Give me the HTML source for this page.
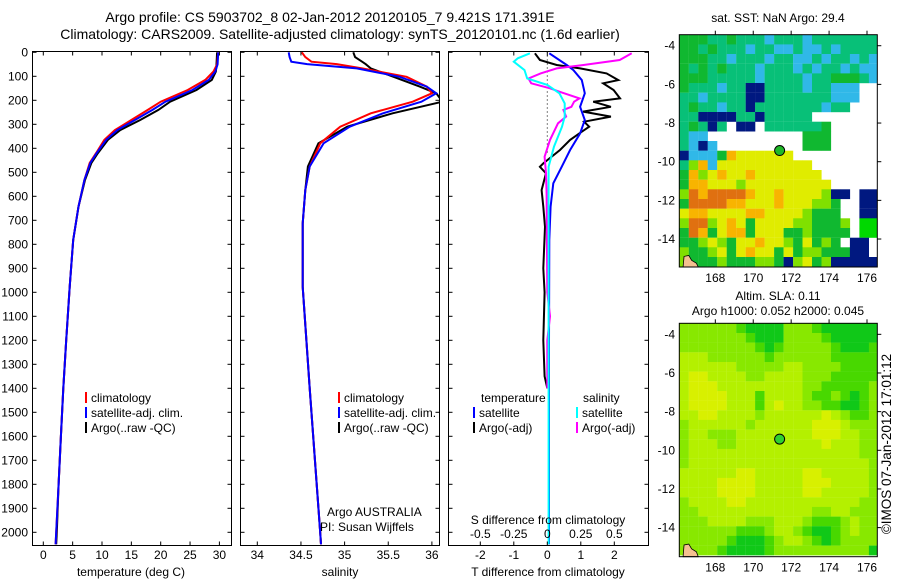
<!DOCTYPE html>
<html><head><meta charset="utf-8"><style>
body{margin:0;background:#fff}
svg{display:block;font-family:"Liberation Sans",sans-serif;font-size:12px}
</style></head><body>
<svg id="fig" width="900" height="580" viewBox="0 0 900 580">
<rect width="900" height="580" fill="#fff"/>
<text x="330" y="22" font-size="14" text-anchor="middle">Argo profile: CS 5903702_8 02-Jan-2012 20120105_7 9.421S 171.391E</text>
<text x="340" y="39" font-size="14" text-anchor="middle">Climatology: CARS2009. Satellite-adjusted climatology: synTS_20120101.nc (1.6d earlier)</text>
<g id="g1"></g>
<g id="g2"></g>
<g id="g3"></g>
<g id="m1"></g>
<g id="m2"></g>
<text x="778" y="22" text-anchor="middle">sat. SST: NaN Argo: 29.4</text>
<text x="778" y="300" text-anchor="middle">Altim. SLA: 0.11</text>
<text x="778" y="315" text-anchor="middle">Argo h1000: 0.052 h2000: 0.045</text>
<text transform="translate(891,444) rotate(-90)" font-size="13.5" text-anchor="middle">©IMOS 07-Jan-2012 17:01:12</text>
</svg>
<script>
// ---- temperature profile data ----
const tDepths = [0,50,80,115,157,206,240,282,324,365,420,461,532,643,782,977,1200,1400,1600,1800,2000,2050];
const argoT   = [29.6,29.5,29.4,28.7,26.1,21.6,19.6,16.5,13.1,11.0,9.3,8.2,7.1,6.0,5.1,4.5,3.9,3.4,3.0,2.6,2.3,2.2];
const satT    = [29.8,29.7,29.3,28.2,25.4,20.8,18.6,15.6,12.6,10.7,9.1,8.0,7.0,6.0,5.1,4.5,3.9,3.4,3.0,2.6,2.2,2.1];
const climT   = [29.8,29.6,29.0,27.6,24.6,20.0,17.8,15.0,12.2,10.4,9.0,7.9,7.0,6.0,5.1,4.5,3.9,3.4,3.0,2.6,2.2,2.1];
// ---- salinity profile data ----
const sDepths = [0,20,39,49,67,102,143,171,206,254,310,379,476,574,713,977,1400,1800,2000,2050];
const satS    = [34.36,34.37,34.39,34.57,35.14,35.63,35.94,36.05,35.88,35.44,35.06,34.76,34.60,34.55,34.52,34.52,34.60,34.68,34.72,34.73];
const climS   = [34.51,34.55,34.62,34.91,35.20,35.71,35.94,36.00,35.78,35.30,34.95,34.72,34.60,34.55,34.52,34.52,34.60,34.68,34.72,34.73];
const argoS   = [35.10,35.12,35.20,35.24,35.30,35.56,35.86,36.05,36.12,35.55,35.03,34.70,34.58,34.55,34.52,34.52,34.60,34.68,34.72,34.73];
// ---- difference data ----
const dSatTDepth = [4,53,74,116,171,227,282,338,407,477,546,643,782,1200,1600,2050];
const dSatT      = [0.06,0.58,0.78,1.03,1.12,0.98,1.12,0.98,0.68,0.43,0.18,0.10,0.06,0.05,0.05,0.05];
const dArgoTDepth = [4,32,53,67,88,116,129,157,192,206,227,247,268,289,310,331,365,407,463,477,504,574,643,727,900,1000,1200,1350,1400];
const dArgoT      = [-0.37,-0.22,0.28,0.98,1.77,2.12,1.67,1.98,2.17,1.37,1.90,1.07,1.90,1.10,1.25,1.03,0.68,0.38,-0.12,-0.22,-0.04,-0.17,-0.12,-0.07,-0.12,-0.08,-0.12,-0.08,0.0];
const dSatSDepth = [4,25,39,74,109,136,171,213,268,310,393,477,643,1000,1600,2050];
const dSatS      = [-0.13,-0.22,-0.25,-0.17,-0.15,0.00,0.09,0.13,0.13,0.11,0.05,0.01,0.01,0.01,0.01,0.01];
const dArgoSDepth = [4,32,53,67,88,109,129,150,164,192,206,227,240,268,296,365,435,504,588,1000,1100,1200,1400];
const dArgoS      = [0.63,0.54,0.27,0.07,-0.05,-0.14,-0.12,0.02,0.09,0.24,0.20,0.18,0.12,0.14,0.08,0.02,-0.02,-0.01,-0.005,0.0,0.02,0.0,0.0];
// ---- tick labels ----
const depthTicks = [0,100,200,300,400,500,600,700,800,900,1000,1100,1200,1300,1400,1500,1600,1700,1800,1900,2000];
const tempTicks = [0,5,10,15,20,25,30];
const salTicks = [34,34.5,35,35.5,36];
const tdiffTicks = [-2,-1,0,1,2];
const sdiffTicks = [-0.5,-0.25,0,0.25,0.5];
const latTicks = [-4,-6,-8,-10,-12,-14];
const lonTicks = [168,170,172,174,176];
const profileLat = -9.421, profileLon = 171.391;

const NS='http://www.w3.org/2000/svg';
function mk(p,tag,at){const e=document.createElementNS(NS,tag);for(const k in at)e.setAttribute(k,at[k]);p.appendChild(e);return e;}
const yD = d => 52.3 + 0.24*d;
const xT = t => 43.3 + 5.87*t;
const xS = s => 257.3 + 87.3*(s-34);
const xdT = t => 547.3 + 33.5*t;
const xdS = s => 547.3 + 134*s;
const PB = 545.5, PT = 51.5;
const panels = [[32.5,231.5],[240.5,439.5],[448.5,648.5]];
const svg=document.getElementById('fig');
const defs=mk(svg,'defs',{});
panels.forEach((p,i)=>{const c=mk(defs,'clipPath',{id:'cp'+i});mk(c,'rect',{x:p[0],y:PT,width:p[1]-p[0],height:PB-PT});});

function frame(g,i){
  const p=panels[i];
  const r=mk(g,'rect',{x:p[0],y:PT,width:p[1]-p[0],height:PB-PT,fill:'none',stroke:'#000','stroke-width':1});
  
  
  depthTicks.forEach(d=>{
    const y=yD(d);
    const t1=mk(g,'line',{x1:p[0],x2:p[0]+4,y1:y,y2:y,stroke:'#000'});
    
    
    const t2=mk(g,'line',{x1:p[1]-4,x2:p[1],y1:y,y2:y,stroke:'#000'});
    
    
  });
}
function xticks(g,vals,fx,labels){
  vals.forEach((v,k)=>{
    const x=fx(v);
    const a=mk(g,'line',{x1:x,x2:x,y1:PT,y2:PT+4,stroke:'#000'});
    
    
    const b=mk(g,'line',{x1:x,x2:x,y1:PB-4,y2:PB,stroke:'#000'});
    
    
    const t=mk(g,'text',{x:x,y:559,'text-anchor':'middle'});
    t.textContent=labels[k];
    
    
  });
}
function line(g,xs,ds,fx,color,clip,name,w){
  const d=xs.map((v,k)=>(k?'L':'M')+fx(v).toFixed(1)+','+yD(ds[k]).toFixed(1)).join('');
  const e=mk(g,'path',{d:d,fill:'none',stroke:color,'stroke-width':w||2,'clip-path':'url(#cp'+clip+')'});
  
  
}
function legend(g,x,y,color,label){
  const b=mk(g,'rect',{x:x,y:y-10,width:2,height:11,fill:color});
  
  
  const t=mk(g,'text',{x:x+6,y:y});
  t.textContent=label;
  
  
}
function txt(g,x,y,s,name,anchor){
  const t=mk(g,'text',{x:x,y:y,'text-anchor':anchor||'start'});
  t.textContent=s;
  
  
}

// Panel 1
const g1=document.getElementById('g1');
line(g1,argoT,tDepths,xT,'#000',0,'argo-temperature-line');
line(g1,climT,tDepths,xT,'#f00',0,'climatology-temperature-line');
line(g1,satT,tDepths,xT,'#00f',0,'satellite-temperature-line');
frame(g1,0);
xticks(g1,tempTicks,xT,tempTicks.map(String));
depthTicks.forEach(d=>{
  const t=mk(g1,'text',{x:28,y:yD(d)+4,'text-anchor':'end'});
  t.textContent=String(d);
  
  
});
txt(g1,131,576,'temperature (deg C)','x-axis-title-temperature','middle');
legend(g1,85,402,'#f00','climatology');
legend(g1,85,417,'#00f','satellite-adj. clim.');
legend(g1,85,432,'#000','Argo(..raw -QC)');

// Panel 2
const g2=document.getElementById('g2');
line(g2,argoS,sDepths,xS,'#000',1,'argo-salinity-line');
line(g2,climS,sDepths,xS,'#f00',1,'climatology-salinity-line');
line(g2,satS,sDepths,xS,'#00f',1,'satellite-salinity-line');
frame(g2,1);
xticks(g2,salTicks,xS,['34','34.5','35','35.5','36']);
txt(g2,340,576,'salinity','x-axis-title-salinity','middle');
legend(g2,338,402,'#f00','climatology');
legend(g2,338,417,'#00f','satellite-adj. clim.');
legend(g2,338,432,'#000','Argo(..raw -QC)');
txt(g2,327,516,'Argo AUSTRALIA','float-owner');
txt(g2,320,531,'PI: Susan Wijffels','float-pi');

// Panel 3
const g3=document.getElementById('g3');
const zl=mk(g3,'line',{x1:xdT(0),x2:xdT(0),y1:PT,y2:yD(420),stroke:'#000','stroke-dasharray':'1,3'});


line(g3,dArgoT,dArgoTDepth,xdT,'#000',2,'argo-t-diff-line');
line(g3,dSatT,dSatTDepth,xdT,'#00f',2,'satellite-t-diff-line');
line(g3,dArgoS,dArgoSDepth,xdS,'#f0f',2,'argo-s-diff-line');
line(g3,dSatS,dSatSDepth,xdS,'#0ff',2,'satellite-s-diff-line');
frame(g3,2);
xticks(g3,tdiffTicks,xdT,tdiffTicks.map(String));
sdiffTicks.forEach((v,k)=>{
  const t=mk(g3,'text',{x:xdS(v),y:538,'text-anchor':'middle'});
  t.textContent=['-0.5','-0.25','0','0.25','0.5'][k];
  
  
});
txt(g3,548,524,'S difference from climatology','s-diff-axis-title','middle');
txt(g3,548,576,'T difference from climatology','t-diff-axis-title','middle');
txt(g3,481,402,'temperature','legend-heading-temperature');
txt(g3,583,402,'salinity','legend-heading-salinity');
legend(g3,473,417,'#00f','satellite');
legend(g3,473,432,'#000','Argo(-adj)');
legend(g3,576,417,'#0ff','satellite');
legend(g3,576,432,'#f0f','Argo(-adj)');

// Maps
const mapGrid1 = [
"gggttgtttctttcttttttt","ggtgtttcttcctcctctttt","gggttctttcttcctcttctc","gtgtgtttctttctcttctcc",
"gggtttttcttttcttgggtc","gtttcttbbttttcttcccww","ttcttttbbtttttttcccww","tgttcttbtttttttcttwww",
"ttbbbbttbtttttwwwwwww","tgtbtwbbwttttttgwwwww","tccwwwwwwwwwwgggwwwww","tcbcwwwwwwwwwgggwwwww",
"bcccgoyyyyyywwwwwwwww","tlocyyyyyyyyyywwwwwww","golyoyyoyyyyyyywwwwww","gooyyylyyyyyyyyywwwww",
"lrorrrroyyoyyyylbbwbb","grrrrooyyyoyyyllgwwbb","yooyyyyooyyyylgggwwbb","lrrlyoygyyyyllggglwGG",
"grogyoogyyygglggggwGG","gglylgyyoyylgyglgwbbw","lgglygyoyygygllgggbbw","lggglgggllgblyglbbbbb"];
const mapGrid2 = [
"llllllgGGGGlllgGGGGGG","lllllllgGGGllllgGGGGG","llllllllgGglllllgGGGg","LLLllllllgllllllggggg",
"LLLLLLlllllLLllllgggg","LyyLLLLllLLLLlllggggg","LyyyLLLLLLLLLllgggggl","LyyyyLLLgLLLLlgglgGgl",
"LyyyyLLLgLyLLllggGGgl","LLyyLLLLlLLLLLLyLlggl","lLLLLLLlLLLLLLyyyLlll","lLLlllLLLLLLLLyyyLLll",
"lLLLllLLLLLLLLLyLLLll","lLLLLLLLLLLLLLLLLLLll","lLLLLLLLLLLLLLLLLLLLl","LLLLLLyyLLLLLyyLLLLLl",
"LLLLyyyyLLLLLyyyLLLLl","LLLLyyyyLLLLLyyLLLLLl","lLLLLyyLLLLLLLLLLLLll","llLLLLLLLLLLLLllLLlll",
"lllLLLLlllLLLlggglLll","llllllggglLLlgGGglLll","lllllgGGGglLLlgGgllll","llllgGGGGgllllllllllG"];
const pal1={g:'#10b830',t:'#08c078',c:'#30b8e8',b:'#001880',w:'#ffffff',y:'#e0ec00',o:'#f8b400',r:'#e07010',l:'#80e000',G:'#00d800'};
const pal2={G:'#10c818',g:'#48d800',l:'#88e800',L:'#b4f000',y:'#d8f000'};
const ML=679.3, MR=877.3, lon0=166.1, lat0=-3.43;
const mx = lon => ML + (lon-lon0)*18.96;
function drawMap(id,top,bot,grid,pal,dotColor){
  const g=document.getElementById(id);
  const my = lat => top + (lat0-lat)*19.33;
  grid.forEach((row,j)=>{
    for(let i=0;i<row.length;i++){
      const c=row[i];
      if(c==='w') continue;
      const x=mx(lon0+0.5*i), y=my(lat0-0.5*j);
      const w=Math.min(9.6, MR-x), h=Math.min(9.8, bot-y);
      if(w<=0||h<=0) continue;
      const r=mk(g,'rect',{x:x.toFixed(1),y:y.toFixed(1),width:w.toFixed(1),height:h.toFixed(1),fill:pal[c]});
      
      
    }
  });
  const land=mk(g,'path',{d:`M${mx(166.3)},${bot}L${mx(166.35)},${my(-14.9)}L${mx(166.6)},${my(-14.85)}L${mx(166.75)},${my(-15.1)}L${mx(167.0)},${my(-15.25)}L${mx(167.1)},${bot}Z`,fill:'#f4c090',stroke:'#000','stroke-width':0.8});
  
  
  const dot=mk(g,'circle',{cx:mx(profileLon),cy:my(profileLat),r:5,fill:dotColor,stroke:'#000','stroke-width':1});
  
  
  const fr=mk(g,'rect',{x:ML,y:top,width:MR-ML,height:bot-top,fill:'none',stroke:'#000'});
  
  
  latTicks.forEach(l=>{
    const y=my(l);
    const t=mk(g,'text',{x:675,y:y+4,'text-anchor':'end'});
    t.textContent=String(l);
    
    
    const k=mk(g,'line',{x1:MR,x2:MR+4,y1:y,y2:y,stroke:'#000'});
    
    
  });
  lonTicks.forEach(l=>{
    const x=mx(l);
    const t=mk(g,'text',{x:x,y:bot+15,'text-anchor':'middle'});
    t.textContent=String(l);
    
    
    const k=mk(g,'line',{x1:x,x2:x,y1:top-4,y2:top,stroke:'#000'});
    
    
  });
}
drawMap('m1',34.7,267,mapGrid1,pal1,'#20b828');
drawMap('m2',323.3,556.7,mapGrid2,pal2,'#30d030');
</script>
</body></html>
